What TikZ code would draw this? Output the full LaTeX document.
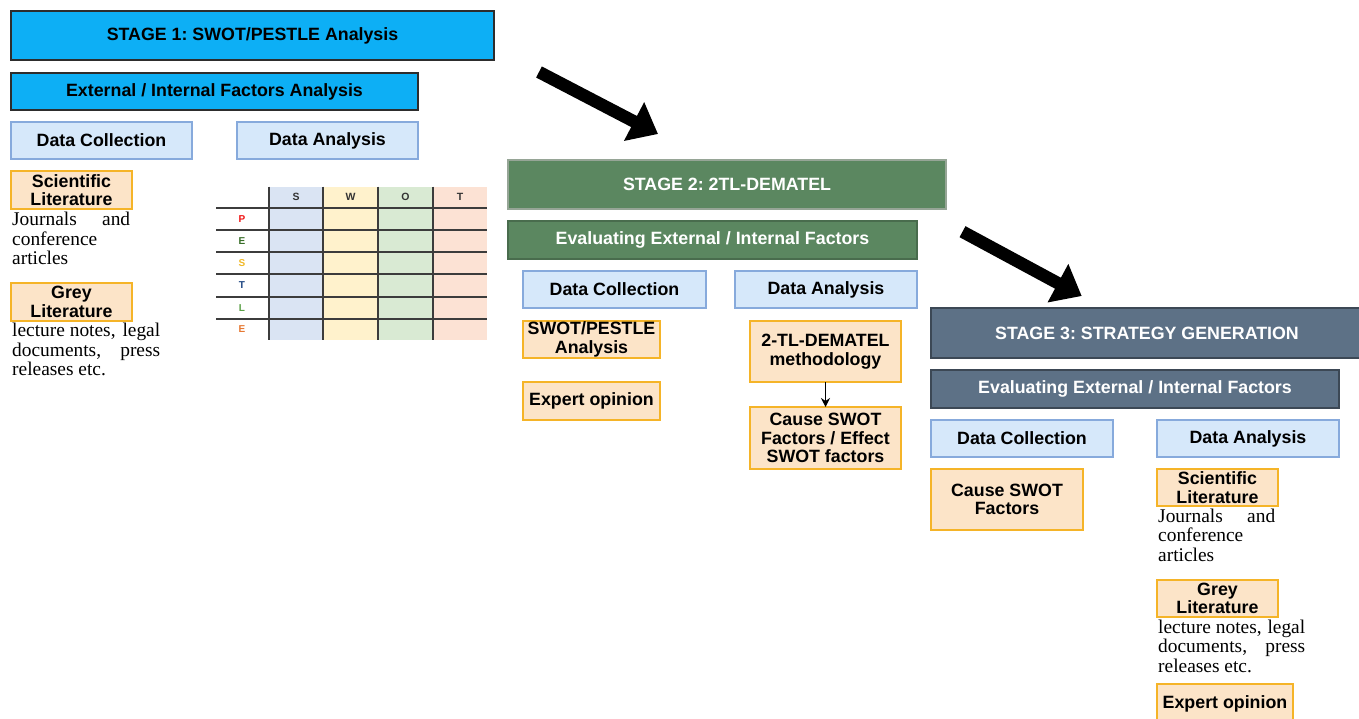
\documentclass[tikz,border=0pt]{standalone}
\usepackage{fontspec}
\setmainfont{Liberation Serif}
\newfontfamily\lsans{Liberation Sans}
\usetikzlibrary{arrows.meta}
\frenchspacing
\definecolor{cOneFill}{RGB}{13,175,245}
\definecolor{cOneLine}{RGB}{45,45,45}
\definecolor{cTwoFill}{RGB}{91,135,96}
\definecolor{cTwoLine}{RGB}{150,165,150}
\definecolor{cThreeFill}{RGB}{93,113,134}
\definecolor{cThreeLine}{RGB}{60,72,85}
\definecolor{dFill}{RGB}{214,232,250}
\definecolor{dLine}{RGB}{135,170,220}
\definecolor{oFill}{RGB}{252,228,200}
\definecolor{oLine}{RGB}{245,180,40}
\definecolor{tS}{RGB}{218,228,243}
\definecolor{tW}{RGB}{255,242,204}
\definecolor{tO}{RGB}{217,234,211}
\definecolor{tT}{RGB}{252,226,212}
\definecolor{tLine}{RGB}{60,60,60}
\definecolor{lP}{RGB}{240,20,20}
\definecolor{lE}{RGB}{56,110,40}
\definecolor{lS}{RGB}{241,185,40}
\definecolor{lT}{RGB}{30,70,130}
\definecolor{lL}{RGB}{90,160,70}
\definecolor{lEtwo}{RGB}{230,120,50}
\tikzset{
  box/.style={draw, line width=1.5pt, inner sep=0pt, outer sep=0pt, anchor=north west,
    align=center, font=\lsans\bfseries\fontsize{17.8}{18.5}\selectfont},
  stone/.style={box, fill=cOneFill, draw=cOneLine},
  sttwo/.style={box, fill=cTwoFill, draw=cTwoLine, text=white},
  stthree/.style={box, fill=cThreeFill, draw=cThreeLine, text=white},
  dbox/.style={box, fill=dFill, draw=dLine, line width=1.8pt},
  obox/.style={box, fill=oFill, draw=oLine, line width=1.8pt},
  serif/.style={anchor=north west, inner sep=0pt, align=left, font=\fontsize{19.4}{19.5}\selectfont},
  bigarrow/.style={line width=12.5pt, -{Triangle[width=42pt,length=27pt]}},
  tline/.style={draw=tLine, line width=1.8pt},
  tlab/.style={font=\lsans\bfseries\fontsize{10}{11}\selectfont, inner sep=0pt},
  thead/.style={tlab, text=black!80, font=\lsans\bfseries\fontsize{10.5}{11}\selectfont}
}
\begin{document}
\begin{tikzpicture}[x=1pt,y=-1pt]
\useasboundingbox (0,0) rectangle (1359,719);
\fill[white] (0,0) rectangle (1359,719);
\begin{scope}
\clip (0,0) rectangle (1359,719);
% ---------- Stage 1 ----------
\node[stone, minimum width=483pt, minimum height=49pt] (s1) at (11,11) {STAGE 1: SWOT/PESTLE Analysis};
\node[stone, minimum width=407pt, minimum height=37pt] (s1e) at (11,73) {External / Internal Factors Analysis};
\node[dbox, minimum width=181pt, minimum height=37pt] (s1dc) at (11,122) {Data Collection};
\node[dbox, minimum width=181pt, minimum height=37pt] (s1da) at (237,122) {Data Analysis};
\node[obox, minimum width=121pt, minimum height=38pt] (s1sci) at (11,171) {Scientific\\Literature};
\node[serif] (s1j) at (12,212) {\makebox[118pt][l]{Journals\hfill and}\\conference\\articles};
\node[obox, minimum width=121pt, minimum height=38pt] (s1grey) at (11,283) {Grey\\Literature};
\node[serif] (s1l) at (12,323) {\makebox[148pt][l]{lecture notes,\hfill legal}\\\makebox[148pt][l]{documents,\hfill press}\\releases etc.};
% table
\fill[tS] (269,186.7) rectangle (323,340);
\fill[tW] (323,186.7) rectangle (378,340);
\fill[tO] (378,186.7) rectangle (433,340);
\fill[tT] (433,186.7) rectangle (487,340);
\foreach \yy in {207.7,230,252.3,274.3,296.7,318.7} \draw[tline] (216,\yy) -- (487,\yy);
\foreach \xx in {269,323,378,433} \draw[tline] (\xx,186.7) -- (\xx,340);
\node[thead] (hS) at (296,197) {S};
\node[thead] (hW) at (350.5,197) {W};
\node[thead] (hO) at (405.5,197) {O};
\node[thead] (hT) at (460,197) {T};
\node[tlab, text=lP] (rP) at (242,219) {P};
\node[tlab, text=lE] (rE) at (242,241) {E};
\node[tlab, text=lS] (rS) at (242,263.3) {S};
\node[tlab, text=lT] (rT) at (242,285.5) {T};
\node[tlab, text=lL] (rL) at (242,307.7) {L};
\node[tlab, text=lEtwo] (rE2) at (242,329.3) {E};
% arrow 1
\coordinate (a1s) at (539,72);
\coordinate (a1e) at (658,134);
\draw[bigarrow] (a1s) -- (a1e);
% ---------- Stage 2 ----------
\node[sttwo, minimum width=438pt, minimum height=49pt] (s2) at (508,160) {STAGE 2: 2TL-DEMATEL};
\node[sttwo, minimum width=409pt, minimum height=38pt, draw=cTwoFill!80!black] (s2e) at (508,221) {Evaluating External / Internal Factors};
\node[dbox, minimum width=183pt, minimum height=37pt] (s2dc) at (523,271) {Data Collection};
\node[dbox, minimum width=182pt, minimum height=37pt] (s2da) at (735,271) {Data Analysis};
\node[obox, minimum width=137pt, minimum height=37pt] (s2sw) at (523,321) {SWOT/PESTLE\\Analysis};
\node[obox, minimum width=137pt, minimum height=38pt] (s2ex) at (523,382) {Expert opinion};
\node[obox, minimum width=151pt, minimum height=61pt] (s2tl) at (750,321) {2-TL-DEMATEL\\methodology};
\node[obox, minimum width=151pt, minimum height=62pt] (s2cs) at (750,407) {Cause SWOT\\Factors / Effect\\SWOT factors};
\draw[line width=1.3pt, -{Stealth[length=9pt,width=9pt]}] (s2tl.south) -- (s2cs.north);
% arrow 2
\coordinate (a2s) at (962.5,231.7);
\coordinate (a2e) at (1081.7,296);
\draw[bigarrow] (a2s) -- (a2e);
% ---------- Stage 3 ----------
\node[stthree, minimum width=432pt, minimum height=50pt] (s3) at (931,308) {STAGE 3: STRATEGY GENERATION};
\node[stthree, minimum width=408pt, minimum height=38pt] (s3e) at (931,370) {Evaluating External / Internal Factors};
\node[dbox, minimum width=182pt, minimum height=37pt] (s3dc) at (931,420) {Data Collection};
\node[dbox, minimum width=182pt, minimum height=37pt] (s3da) at (1157,420) {Data Analysis};
\node[obox, minimum width=152pt, minimum height=61pt] (s3cs) at (931,469) {Cause SWOT\\Factors};
\node[obox, minimum width=121pt, minimum height=37pt] (s3sci) at (1157,469) {Scientific\\Literature};
\node[serif] (s3j) at (1158,508.5) {\makebox[117pt][l]{Journals\hfill and}\\conference\\articles};
\node[obox, minimum width=121pt, minimum height=37pt] (s3grey) at (1157,580) {Grey\\Literature};
\node[serif] (s3l) at (1158,619.5) {\makebox[147pt][l]{lecture notes,\hfill legal}\\\makebox[147pt][l]{documents,\hfill press}\\releases etc.};
\node[obox, minimum width=136pt, minimum height=40pt] (s3ex) at (1157,684) {Expert opinion};
\end{scope}
\end{tikzpicture}
\end{document}
